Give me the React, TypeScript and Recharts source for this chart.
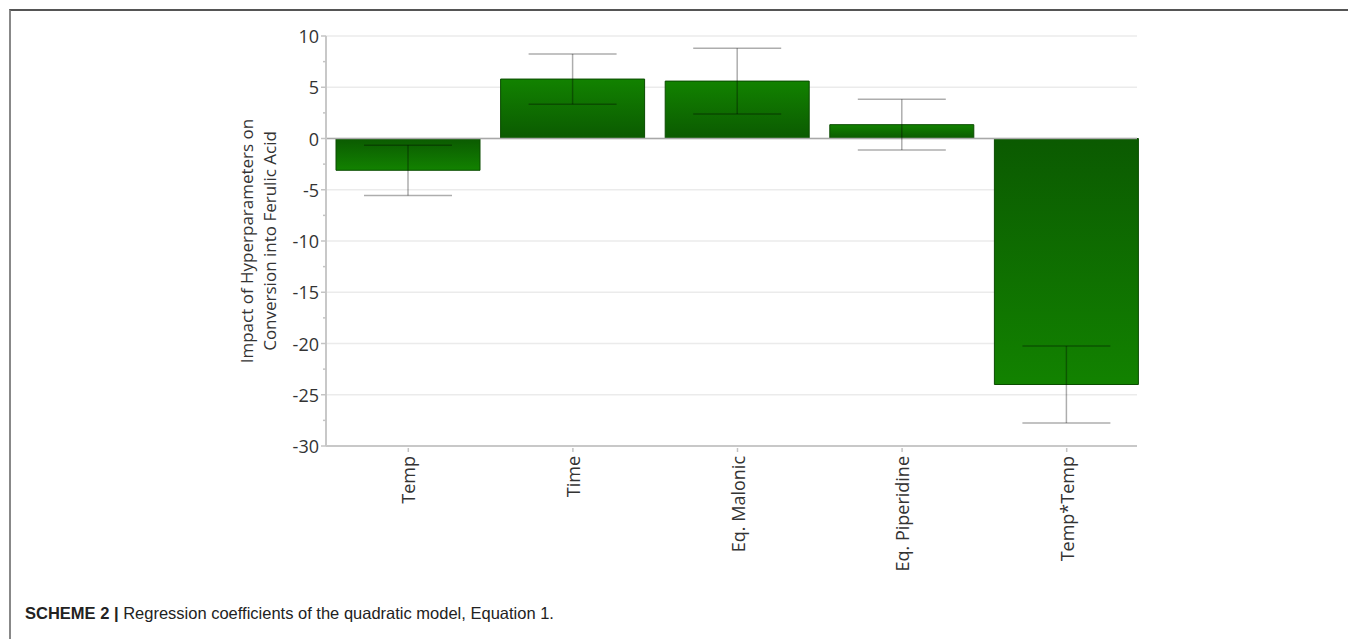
import React from 'react';
import { BarChart, Bar, XAxis, YAxis, CartesianGrid, ErrorBar, ReferenceLine, Cell, Label } from 'recharts';

// terms of the quadratic model
const terms = ['Temp', 'Time', 'Eq. Malonic', 'Eq. Piperidine', 'Temp*Temp'];
// regression coefficients
const coefficients = [-3.1, 5.8, 5.6, 1.35, -24.0];
// half-width of the confidence interval
const errors = [2.45, 2.45, 3.2, 2.47, 3.75];

const yTicks = [10, 7.5, 5, 2.5, 0, -2.5, -5, -7.5, -10, -12.5, -15, -17.5, -20, -22.5, -25, -27.5, -30];
const yMajor = [10, 5, 0, -5, -10, -15, -20, -25, -30];

const data = terms.map((t, i) => ({ term: t, value: coefficients[i], err: errors[i] }));

const tickFont = "'Open Sans', 'Noto Sans', sans-serif";

const YTick = (props: any) => {
    const { x, y, payload } = props;
    const major = yMajor.includes(payload.value);
    return (
        <g>
            <line x1={x - (major ? 5 : 3)} y1={y} x2={x} y2={y} stroke="#c4c4c4" strokeWidth={1.5} />
            {major && (
                <text x={x - 7} y={y} textAnchor="end" dominantBaseline="central" fill="#333" fontSize={18} fontFamily={tickFont}>
                    {payload.value}
                </text>
            )}
        </g>
    );
};

const XTick = (props: any) => {
    const { x, y, payload } = props;
    return (
        <g>
            <line x1={x} y1={y} x2={x} y2={y + 4} stroke="#c4c4c4" strokeWidth={1.5} />
            <text
                x={x}
                y={y + 8}
                transform={`rotate(-90, ${x}, ${y + 8})`}
                textAnchor="end"
                dominantBaseline="central"
                fill="#333"
                fontSize={18}
                fontFamily={tickFont}
            >
                {payload.value}
            </text>
        </g>
    );
};

const YTitle = (props: any) => {
    const { viewBox } = props;
    const cy = viewBox.y + viewBox.height / 2;
    return (
        <text transform={`rotate(-90, 259, ${cy})`} x={259} y={cy} textAnchor="middle" fill="#333" fontSize={17} fontFamily={tickFont}>
            <tspan x={259} dy={-6}>Impact of Hyperparameters on</tspan>
            <tspan x={259} dy={23}>Conversion into Ferulic Acid</tspan>
        </text>
    );
};

export default function App() {
    return (
        <div style={{ position: 'absolute', left: 0, top: 0, width: 1348, height: 639, background: '#fff', overflow: 'hidden' }}>
            <div style={{ position: 'absolute', left: 9, top: 9, right: 0, bottom: 0, borderTop: '2px solid #555', borderLeft: '2px solid #888' }} />
            <BarChart
                width={1348}
                height={639}
                data={data}
                margin={{ top: 36, right: 211, left: 246, bottom: 79 }}
                barSize={144}
                style={{ position: 'absolute', left: 0, top: 0 }}
            >
                <defs>
                    <linearGradient id="posFill" x1="0" y1="0" x2="0" y2="1">
                        <stop offset="0%" stopColor="#128200" />
                        <stop offset="100%" stopColor="#0b5a01" />
                    </linearGradient>
                    <linearGradient id="negFill" x1="0" y1="0" x2="0" y2="1">
                        <stop offset="0%" stopColor="#0b5a01" />
                        <stop offset="100%" stopColor="#128200" />
                    </linearGradient>
                </defs>
                <CartesianGrid vertical={false} stroke="#ebebeb" strokeWidth={1.5} horizontalValues={yMajor} />
                <XAxis
                    dataKey="term"
                    height={114}
                    interval={0}
                    padding={{ left: 0, right: -12 }}
                    axisLine={{ stroke: '#c8c8c8', strokeWidth: 2 }}
                    tickLine={false}
                    tickSize={0}
                    tick={<XTick />}
                />
                <YAxis
                    width={80}
                    domain={[-30, 10]}
                    ticks={yTicks}
                    interval={0}
                    axisLine={{ stroke: '#c8c8c8', strokeWidth: 2 }}
                    tickLine={false}
                    tickSize={0}
                    tickMargin={0}
                    tick={<YTick />}
                >
                    <Label content={<YTitle />} />
                </YAxis>
                <ReferenceLine y={0} stroke="#a8a8a8" strokeWidth={1.5} />
                <Bar dataKey="value" stroke="#0a4c00" strokeWidth={1} isAnimationActive={false}>
                    {data.map((d, i) => (
                        <Cell key={i} fill={d.value >= 0 ? 'url(#posFill)' : 'url(#negFill)'} />
                    ))}
                    <ErrorBar dataKey="err" direction="y" width={44} stroke="rgba(0,0,0,0.32)" strokeWidth={1.5} />
                </Bar>
            </BarChart>
            <div
                style={{
                    position: 'absolute',
                    left: 25,
                    top: 604,
                    fontFamily: "'Liberation Sans', Arial, sans-serif",
                    fontSize: 16.5,
                    color: '#222',
                    whiteSpace: 'nowrap',
                }}
            >
                <b>SCHEME 2 |</b> Regression coefficients of the quadratic model, Equation 1.
            </div>
        </div>
    );
}
